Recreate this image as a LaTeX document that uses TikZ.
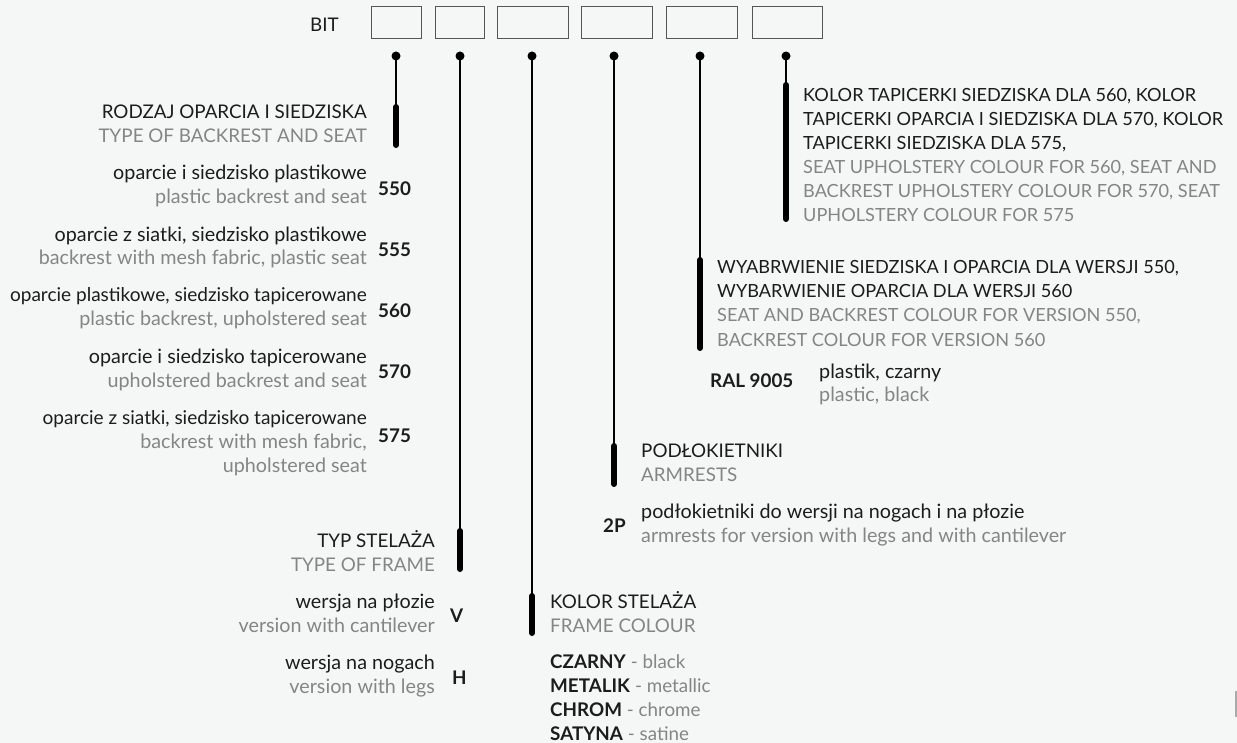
\documentclass[tikz,border=0pt]{standalone}
\usepackage{fontspec}
\setmainfont{Lato}
\definecolor{bg}{HTML}{F5F6F6}
\definecolor{txt}{HTML}{1C1C1C}
\definecolor{sub}{HTML}{858585}
\definecolor{boxc}{HTML}{555555}
\newlength\refw
\AtBeginDocument{%
  \settowidth\refw{\fontsize{10pt}{12pt}\selectfont RODZAJ OPARCIA I SIEDZISKA}%
  \pgfmathsetmacro\FS{10*265/\refw}%
  \pgfmathsetmacro\FSl{\FS*1.05}%
  \pgfmathsetmacro\FSm{\FS*1.012}%
  \pgfmathsetmacro\FSh{\FS*0.965}%
  \global\let\FS\FS \global\let\FSl\FSl \global\let\FSm\FSm \global\let\FSh\FSh}
\begin{document}
\begin{tikzpicture}[x=1pt,y=-1pt]
\tikzset{
  pl/.style={inner sep=0pt, text=txt, font=\fontsize{\FS pt}{\FS pt}\selectfont},
  en/.style={inner sep=0pt, text=sub, font=\fontsize{\FS pt}{\FS pt}\selectfont},
  pll/.style={inner sep=0pt, text=txt, font=\fontsize{\FSl pt}{\FSl pt}\selectfont},
  plm/.style={inner sep=0pt, text=txt, font=\fontsize{\FSm pt}{\FSm pt}\selectfont},
  enl/.style={inner sep=0pt, text=sub, font=\fontsize{\FSl pt}{\FSl pt}\selectfont},
  plh/.style={inner sep=0pt, text=txt, font=\fontsize{\FSh pt}{\FSh pt}\selectfont},
  enh/.style={inner sep=0pt, text=sub, font=\fontsize{\FSh pt}{\FSh pt}\selectfont},
  num/.style={inner sep=0pt, text=txt, font=\fontsize{\FS pt}{\FS pt}\selectfont\bfseries},
  box/.style={draw=boxc, line width=1pt, inner sep=0pt, minimum height=32pt},
  dot/.style={circle, fill=black, inner sep=0pt, minimum size=9pt},
  stem/.style={line width=1.2pt, black},
  bar/.style={line width=6pt, line cap=round, black},
}
\fill[bg] (0,0) rectangle (1237,743);
\useasboundingbox (0,0) rectangle (1237,743);
% header
\node[pl, anchor=base west] (bit) at (310,32) {BIT};
\node[box, minimum width=50pt] (b1) at (396,23) {};
\node[box, minimum width=49pt] (b2) at (459.5,23) {};
\node[box, minimum width=71pt] (b3) at (532.5,23) {};
\node[box, minimum width=71pt] (b4) at (616.5,23) {};
\node[box, minimum width=71pt] (b5) at (701.5,23) {};
\node[box, minimum width=70pt] (b6) at (787,23) {};
% dots
\node[dot] (d1) at (396,56) {};
\node[dot] (d2) at (460,56) {};
\node[dot] (d3) at (532,56) {};
\node[dot] (d4) at (614,56) {};
\node[dot] (d5) at (700,56) {};
\node[dot] (d6) at (786,56) {};
% bar coordinates
\coordinate (t1) at (396,107); \coordinate (e1) at (396,145);
\coordinate (t2) at (460,531); \coordinate (e2) at (460,569);
\coordinate (t3) at (532,596); \coordinate (e3) at (532,633);
\coordinate (t4) at (614,446); \coordinate (e4) at (614,484);
\coordinate (t5) at (700,260); \coordinate (e5) at (700,348);
\coordinate (t6) at (786,85);  \coordinate (e6) at (786,219);
\foreach \i in {1,...,6}{
  \draw[stem] (d\i.center) -- (t\i);
  \draw[bar] (t\i) -- (e\i);
}
% column 1
\node[pl, anchor=base east] (h1a) at (367,119) {RODZAJ OPARCIA I SIEDZISKA};
\node[en, anchor=base east] (h1b) at (367,143) {TYPE OF BACKREST AND SEAT};
\node[pll, anchor=base east] (o1a) at (367,180) {oparcie i siedzisko plastikowe};
\node[enl, anchor=base east] (o1b) at (367,204) {plastic backrest and seat};
\node[num, anchor=base west] (n550) at (378,196) {550};
\node[pll, anchor=base east] (o2a) at (367,242) {oparcie z siatki, siedzisko plastikowe};
\node[enl, anchor=base east] (o2b) at (367,265) {backrest with mesh fabric, plastic seat};
\node[num, anchor=base west] (n555) at (378,257) {555};
\node[plm, anchor=base east] (o3a) at (367,302) {oparcie plastikowe, siedzisko tapicerowane};
\node[enl, anchor=base east] (o3b) at (367,326) {plastic backrest, upholstered seat};
\node[num, anchor=base west] (n560) at (378,318) {560};
\node[pll, anchor=base east] (o4a) at (367,363) {oparcie i siedzisko tapicerowane};
\node[enl, anchor=base east] (o4b) at (367,387) {upholstered backrest and seat};
\node[num, anchor=base west] (n570) at (378,378) {570};
\node[plm, anchor=base east] (o5a) at (367,424) {oparcie z siatki, siedzisko tapicerowane};
\node[enl, anchor=base east] (o5b) at (367,448) {backrest with mesh fabric,};
\node[enl, anchor=base east] (o5c) at (367,472) {upholstered seat};
\node[num, anchor=base west] (n575) at (378,442) {575};
% column 2
\node[pl, anchor=base east] (h2a) at (435,547) {TYP STELAŻA};
\node[en, anchor=base east] (h2b) at (435,571) {TYPE OF FRAME};
\node[pll, anchor=base east] (v1a) at (435,608) {wersja na płozie};
\node[enl, anchor=base east] (v1b) at (435,632) {version with cantilever};
\node[num, anchor=base west] (nV) at (450,622) {V};
\node[pll, anchor=base east] (v2a) at (435,669) {wersja na nogach};
\node[enl, anchor=base east] (v2b) at (435,693) {version with legs};
\node[num, anchor=base west] (nH) at (452,684) {H};
% column 3
\node[pl, anchor=base west] (h3a) at (550,608) {KOLOR STELAŻA};
\node[en, anchor=base west] (h3b) at (550,632) {FRAME COLOUR};
\node[pl, anchor=base west] (c1) at (550,668) {\textbf{CZARNY} \textcolor{sub}{- black}};
\node[pl, anchor=base west] (c2) at (550,692) {\textbf{METALIK} \textcolor{sub}{- metallic}};
\node[pl, anchor=base west] (c3) at (550,716) {\textbf{CHROM} \textcolor{sub}{- chrome}};
\node[pl, anchor=base west] (c4) at (550,740) {\textbf{SATYNA} \textcolor{sub}{- satine}};
% column 4
\node[pl, anchor=base west] (h4a) at (641,457) {PODŁOKIETNIKI};
\node[en, anchor=base west] (h4b) at (641,481) {ARMRESTS};
\node[num, anchor=base west] (n2P) at (603,532) {2P};
\node[pll, anchor=base west] (a1a) at (641,518) {podłokietniki do wersji na nogach i na płozie};
\node[enl, anchor=base west] (a1b) at (641,542) {armrests for version with legs and with cantilever};
% column 5
\node[plh, anchor=base west] (h5a) at (717,274) {WYABRWIENIE SIEDZISKA I OPARCIA DLA WERSJI 550,};
\node[plh, anchor=base west] (h5b) at (717,298) {WYBARWIENIE OPARCIA DLA WERSJI 560};
\node[enh, anchor=base west] (h5c) at (717,322) {SEAT AND BACKREST COLOUR FOR VERSION 550,};
\node[enh, anchor=base west] (h5d) at (717,346) {BACKREST COLOUR FOR VERSION 560};
\node[num, anchor=base west] (ral) at (710,387) {RAL 9005};
\node[pll, anchor=base west] (p1a) at (819,378) {plastik, czarny};
\node[enl, anchor=base west] (p1b) at (819,401) {plastic, black};
% column 6
\node[plh, anchor=base west] (h6a) at (803,102) {KOLOR TAPICERKI SIEDZISKA DLA 560, KOLOR};
\node[plh, anchor=base west] (h6b) at (803,126) {TAPICERKI OPARCIA I SIEDZISKA DLA 570, KOLOR};
\node[plh, anchor=base west] (h6c) at (803,150) {TAPICERKI SIEDZISKA DLA 575,};
\node[enh, anchor=base west] (h6d) at (803,174) {SEAT UPHOLSTERY COLOUR FOR 560, SEAT AND};
\node[enh, anchor=base west] (h6e) at (803,198) {BACKREST UPHOLSTERY COLOUR FOR 570, SEAT};
\node[enh, anchor=base west] (h6f) at (803,222) {UPHOLSTERY COLOUR FOR 575};
% edge mark
\draw[line width=1.5pt, color=sub!70] (1236.2,691) -- (1236.2,717);
\end{tikzpicture}
\end{document}
